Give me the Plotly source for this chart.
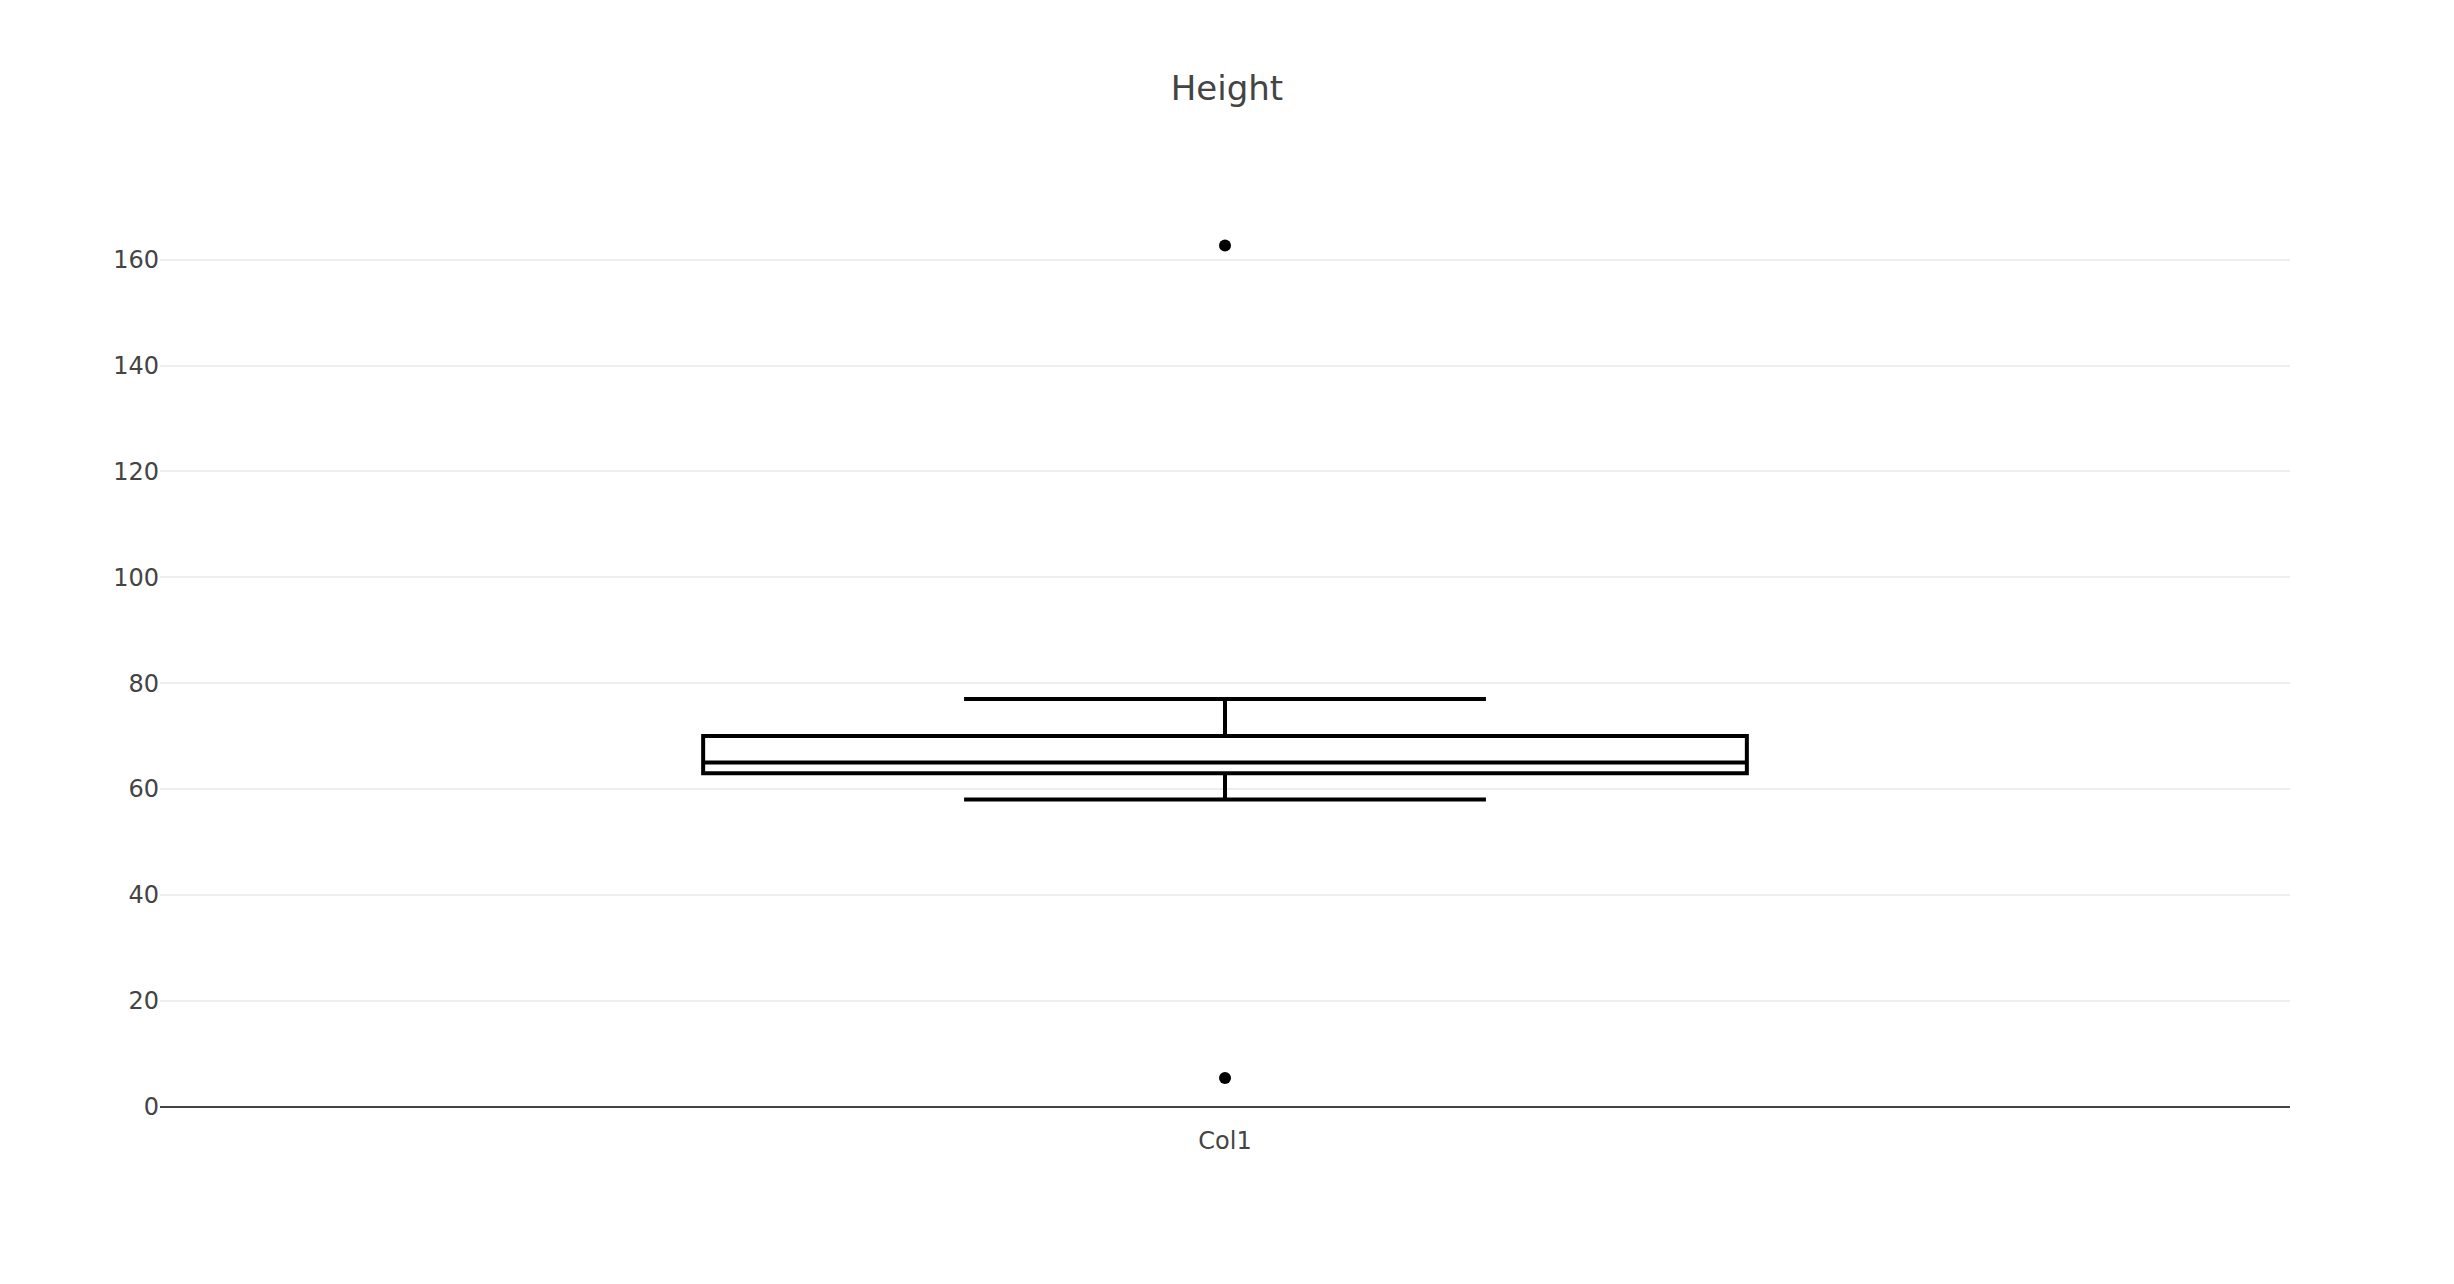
import plotly.graph_objects as go

categories = ["Col1"]
q1 = [63]
median = [65]
q3 = [70]
lowerfence = [58]
upperfence = [77]
outlier_x = ["Col1", "Col1"]
outlier_y = [162.7, 5.4]
title_text = "Height"

fig = go.Figure()
fig.add_trace(go.Box(
    x=categories, q1=q1, median=median, q3=q3,
    lowerfence=lowerfence, upperfence=upperfence,
    name="Col1", line=dict(color="black", width=4),
    fillcolor="rgba(0,0,0,0)", boxpoints=False, showlegend=False,
))
fig.add_trace(go.Scatter(
    x=outlier_x, y=outlier_y, mode="markers",
    marker=dict(color="black", size=12), showlegend=False,
))
fig.update_layout(
    template="none",
    width=2454, height=1284,
    margin=dict(l=160, r=164, t=200, b=160),
    font=dict(family="DejaVu Sans, verdana, arial, sans-serif", size=24, color="#444"),
    title=dict(text=title_text, x=0.5, xanchor="center", font=dict(size=34)),
    paper_bgcolor="white", plot_bgcolor="white",
)
fig.update_xaxes(showgrid=False, zeroline=False, showline=False, ticks="")
fig.update_yaxes(showgrid=True, gridcolor="#eee", gridwidth=2,
                 zeroline=True, zerolinecolor="#444", zerolinewidth=2,
                 dtick=20, ticks="", range=[-3.3, 171.3])
fig.write_html("out.html")
